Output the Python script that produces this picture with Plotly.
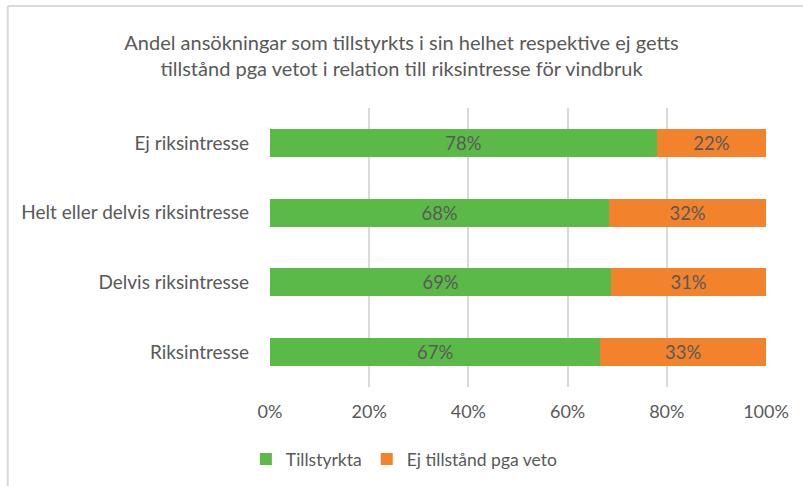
import plotly.graph_objects as go

categories = ["Ej riksintresse", "Helt eller delvis riksintresse", "Delvis riksintresse", "Riksintresse"]
tillstyrkta = [0.780, 0.684, 0.688, 0.666]
ej_tillstand = [0.220, 0.316, 0.312, 0.334]
x_ticks = [0, 0.2, 0.4, 0.6, 0.8, 1.0]
x_tick_labels = ["0%", "20%", "40%", "60%", "80%", "100%"]
title_text = "Andel ansökningar som tillstyrkts i sin helhet respektive ej getts<br>tillstånd pga vetot i relation till riksintresse för vindbruk"

FONT = "Lato, 'Open Sans', sans-serif"
GRAY = "#595959"

fig = go.Figure()
fig.add_trace(go.Bar(
    y=categories, x=tillstyrkta, orientation="h", name="Tillstyrkta",
    marker=dict(color="#5BB947", line=dict(width=0)),
    texttemplate="%{x:.0%}", textposition="inside", insidetextanchor="middle",
    textfont=dict(size=18.5, color=GRAY, family=FONT), hoverinfo="skip",
))
fig.add_trace(go.Bar(
    y=categories, x=ej_tillstand, orientation="h", name="Ej tillstånd pga veto",
    marker=dict(color="#F2832C", line=dict(width=0)),
    texttemplate="%{x:.0%}", textposition="inside", insidetextanchor="middle",
    textfont=dict(size=18.5, color=GRAY, family=FONT), hoverinfo="skip",
))

L, R, T, B = 269.5, 37, 108, 99
W, H = 803, 486
pw, ph = W - L - R, H - T - B

def px(x):
    return (x - L) / pw

def py(y):
    return (H - B - y) / ph

fig.update_layout(
    width=W, height=H,
    margin=dict(l=L, r=R, t=T, b=B, autoexpand=False),
    paper_bgcolor="white", plot_bgcolor="white",
    barmode="stack", bargap=0.6,
    font=dict(family=FONT, color=GRAY, size=17.5),
    uniformtext=dict(minsize=16, mode="show"),
    title=dict(text=title_text, x=0.5, xref="container", xanchor="center",
               y=1 - 50 / H, yref="container", yanchor="middle",
               font=dict(size=20, color=GRAY, family=FONT)),
    xaxis=dict(range=[0, 1], tickvals=x_ticks, ticktext=x_tick_labels,
               showgrid=True, gridcolor="#D9D9D9", gridwidth=1.5,
               zeroline=False, showline=False, ticks="", ticklabelstandoff=12,
               tickfont=dict(size=18, color=GRAY)),
    yaxis=dict(autorange="reversed", showgrid=False, zeroline=False, showline=False,
               ticks="", ticklabelstandoff=20, tickfont=dict(size=19, color=GRAY)),
    legend=dict(orientation="h", x=px(404), xanchor="center", y=py(459), yanchor="middle",
                font=dict(size=17.5, color=GRAY), traceorder="normal", itemwidth=30),
    showlegend=True,
    shapes=[
        dict(type="line", xref="paper", yref="paper", x0=px(7), x1=px(7), y0=py(6), y1=py(H),
             line=dict(color="#D9D9D9", width=2)),
        dict(type="line", xref="paper", yref="paper", x0=px(7), x1=px(W), y0=py(6), y1=py(6),
             line=dict(color="#D9D9D9", width=2)),
    ],
)

fig.write_html("out.html", config={"displayModeBar": False},
               post_script="document.body.style.margin='0';")
